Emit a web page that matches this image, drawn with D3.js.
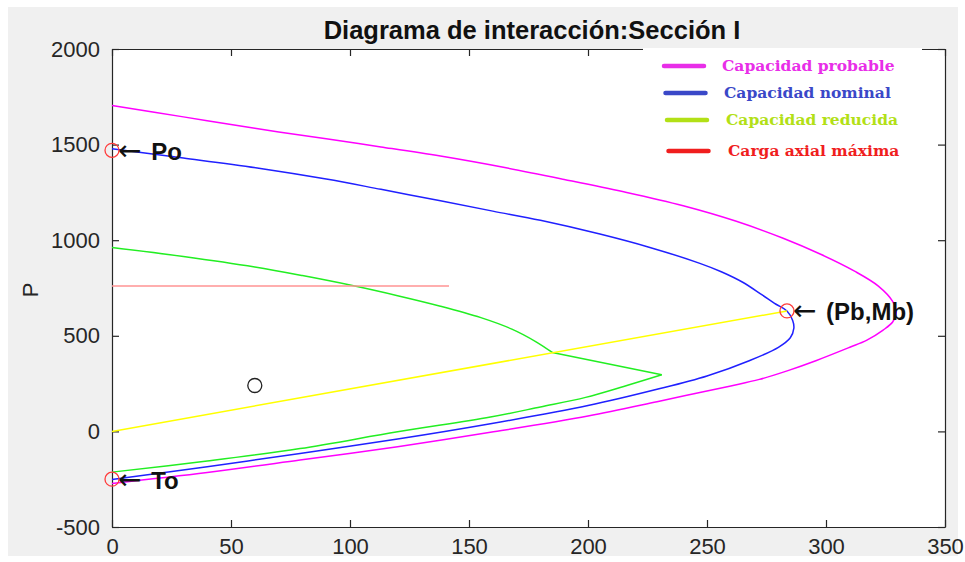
<!DOCTYPE html>
<html>
<head>
<meta charset="utf-8">
<script src="https://cdn.jsdelivr.net/npm/d3@7"></script>
<style>
  html, body { margin: 0; padding: 0; background: #ffffff; }
  svg { display: block; }
</style>
</head>
<body>
<svg id="chart" width="965" height="562"></svg>
<script>
// ---------- DATA ----------
const xTicks = [0, 50, 100, 150, 200, 250, 300, 350];
const yTicks = [-500, 0, 500, 1000, 1500, 2000];

// Capacidad probable (M, P)
const probableM = [0, 30, 60, 90, 113, 138, 165, 190, 215, 240, 262, 282, 298, 312, 322, 328, 329.5,
                   328, 324, 317, 310, 296, 284, 272, 260, 245, 229, 200, 159, 120, 79, 40, 0];
const probableP = [1705, 1645, 1585, 1530, 1488, 1440, 1380, 1318, 1253, 1180, 1100, 1010, 925, 838, 760, 680, 620,
                   572, 530, 476, 440, 371, 318, 272, 238, 198, 155, 80, -5, -80, -150, -215, -272];

// Capacidad nominal (M, P)
const nominalM = [0, 30, 61, 90, 113, 138, 160, 180, 205, 226, 247, 256, 265, 273, 279, 283.6,
                  286, 286.5, 285, 280, 268, 250, 229, 200, 159, 120, 79, 40, 0];
const nominalP = [1478, 1430, 1378, 1320, 1266, 1206, 1152, 1104, 1032, 962, 879, 835, 780, 715, 665, 630,
                  580, 540, 490, 440, 371, 290, 220, 135, 40, -40, -115, -185, -252];

// Capacidad reducida (M, P): rama superior, tramo quebrado, rama inferior
const reducidaUpperM = [0, 30, 60, 80, 101, 120, 138, 155, 168, 178, 185];
const reducidaUpperP = [962, 915, 860, 815, 763, 710, 655, 595, 535, 470, 413];
const reducidaMidM = [185, 231];
const reducidaMidP = [413, 296];
const reducidaLowerM = [231, 215, 199, 180, 159, 120, 79, 40, 0];
const reducidaLowerP = [296, 235, 178, 128, 75, -2, -90, -155, -213];

// Carga axial máxima
const cargaM = [0, 141.6];
const cargaP = [760, 760];

// Línea (0,0) -> (Pb,Mb)
const balanceM = [0, 283.6];
const balanceP = [0, 630];

// Puntos notables
const pointNames = ["Po", "(Pb,Mb)", "To"];
const pointM = [0, 283.6, 0];
const pointP = [1470, 630, -250];

// Punto de carga
const loadM = [60];
const loadP = [240];

const legendLabels = ["Capacidad probable", "Capacidad nominal", "Capacidad reducida", "Carga axial máxima"];
const titleText = "Diagrama de interacción:Sección I";
const yLabel = "P";

// ---------- DRAW ----------
const svg = d3.select("#chart");
const pLeft = 112, pRight = 945, pTop = 49, pBottom = 527;

svg.append("rect").attr("x", 8).attr("y", 7).attr("width", 950).attr("height", 549).attr("fill", "#f0f0f0");
svg.append("rect").attr("x", pLeft).attr("y", pTop).attr("width", pRight - pLeft).attr("height", pBottom - pTop).attr("fill", "#ffffff");

const x = d3.scaleLinear().domain([0, 350]).range([pLeft, pRight]);
const y = d3.scaleLinear().domain([-500, 2000]).range([pBottom, pTop]);

const fontSans = "'Liberation Sans', Arial, Helvetica, sans-serif";
const fmt = d => String(d);

// axes
const axB = svg.append("g").attr("transform", `translate(0,${pBottom})`)
  .call(d3.axisBottom(x).tickValues(xTicks).tickFormat(fmt).tickSizeInner(-7).tickSizeOuter(0).tickPadding(11));
const axL = svg.append("g").attr("transform", `translate(${pLeft},0)`)
  .call(d3.axisLeft(y).tickValues(yTicks).tickFormat(fmt).tickSizeInner(-7).tickSizeOuter(0).tickPadding(12));
const axT = svg.append("g").attr("transform", `translate(0,${pTop})`)
  .call(d3.axisTop(x).tickValues(xTicks).tickSizeInner(-7).tickSizeOuter(0).tickFormat(""));
const axR = svg.append("g").attr("transform", `translate(${pRight},0)`)
  .call(d3.axisRight(y).tickValues(yTicks).tickSizeInner(-7).tickSizeOuter(0).tickFormat(""));

[axB, axL, axT, axR].forEach(g => {
  g.selectAll(".domain").attr("stroke", "#262626").attr("stroke-width", 1.2);
  g.selectAll(".tick line").attr("stroke", "#262626").attr("stroke-width", 1.2);
  g.selectAll(".tick text").attr("fill", "#262626").style("font-family", fontSans).style("font-size", "22px");
});

// curves
const smooth = d3.line().x(d => x(d[0])).y(d => y(d[1])).curve(d3.curveCatmullRom.alpha(0.5));
const straight = d3.line().x(d => x(d[0])).y(d => y(d[1]));
const zip = (a, b) => a.map((v, i) => [v, b[i]]);
const curves = [
  { M: probableM, P: probableP, color: "#ff00ff", gen: smooth },
  { M: nominalM, P: nominalP, color: "#2020ff", gen: smooth },
  { M: reducidaUpperM, P: reducidaUpperP, color: "#22ee22", gen: smooth },
  { M: reducidaMidM, P: reducidaMidP, color: "#22ee22", gen: straight },
  { M: reducidaLowerM, P: reducidaLowerP, color: "#22ee22", gen: smooth },
  { M: cargaM, P: cargaP, color: "#ff9393", gen: straight },
  { M: balanceM, P: balanceP, color: "#ffff00", gen: straight }
];
curves.forEach(c => {
  svg.append("path").attr("d", c.gen(zip(c.M, c.P)))
    .attr("fill", "none").attr("stroke", c.color).attr("stroke-width", 1.5)
    .attr("stroke-linejoin", "round");
});

// notable points
svg.selectAll("circle.pt").data(zip(pointM, pointP)).enter().append("circle")
  .attr("class", "pt").attr("cx", d => x(d[0])).attr("cy", d => y(d[1])).attr("r", 7)
  .attr("fill", "none").attr("stroke", "#ff3b3b").attr("stroke-width", 1.3);

svg.selectAll("circle.ld").data(zip(loadM, loadP)).enter().append("circle")
  .attr("class", "ld").attr("cx", d => x(d[0])).attr("cy", d => y(d[1])).attr("r", 7)
  .attr("fill", "none").attr("stroke", "#222").attr("stroke-width", 1.3);

// annotations
pointNames.forEach((name, i) => {
  const t = svg.append("text")
    .attr("x", x(pointM[i]) + 6).attr("y", y(pointP[i]) + 9.5)
    .style("font-family", fontSans).style("font-size", "24px").attr("fill", "#111");
  t.append("tspan").style("font-family", "'DejaVu Sans', sans-serif").style("font-size", "28px").text("\u2190");
  t.append("tspan").attr("dx", 3).style("font-weight", "bold").text(" " + name);
});

// title
svg.append("text").attr("x", 532).attr("y", 39).attr("text-anchor", "middle")
  .style("font-family", fontSans).style("font-size", "25.5px").style("font-weight", "bold")
  .attr("fill", "#111").text(titleText);

// y label
svg.append("text").attr("transform", "translate(38,290) rotate(-90)").attr("text-anchor", "middle")
  .style("font-family", fontSans).style("font-size", "22px").attr("fill", "#262626").text(yLabel);

// legend
const legendColors = ["#e82ee8", "#3a48c8", "#b2e016", "#f01e1e"];
const lg = svg.append("g");
lg.append("rect").attr("x", 643).attr("y", 48).attr("width", 279).attr("height", 122).attr("fill", "#ffffff");
const rowsY = [66, 93, 120, 151];
legendLabels.forEach((lab, i) => {
  lg.append("line").attr("x1", 664 + i * 1.5).attr("x2", 704 + i * 1.5).attr("y1", rowsY[i]).attr("y2", rowsY[i])
    .attr("stroke", legendColors[i]).attr("stroke-width", 4.5).attr("stroke-linecap", "round");
  lg.append("text").attr("x", 722 + i * 2).attr("y", rowsY[i] + 5)
    .style("font-family", "'DejaVu Serif', serif").style("font-size", "15.5px").style("font-weight", "bold")
    .attr("fill", legendColors[i]).text(lab);
});
</script>
</body>
</html>
